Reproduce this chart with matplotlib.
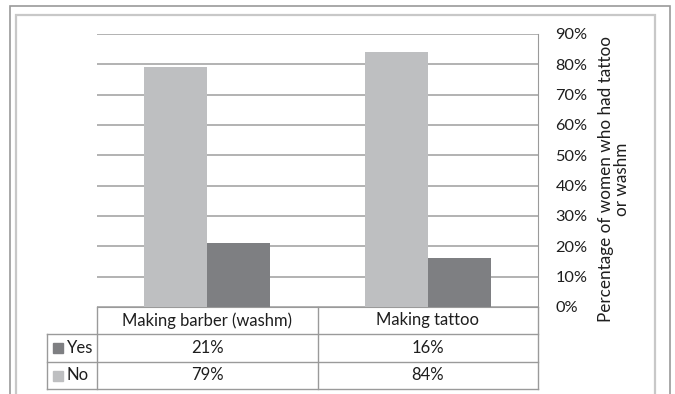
import matplotlib
matplotlib.use("Agg")
import matplotlib.pyplot as plt
from matplotlib.patches import Rectangle
from matplotlib.lines import Line2D
import numpy as np

categories = ["Making barber (washm)", "Making tattoo"]
series_names = ["Yes", "No"]
yes_values = [21, 16]
no_values = [79, 84]
yticks = [0, 10, 20, 30, 40, 50, 60, 70, 80, 90]
ylabel = "Percentage of women who had tattoo\nor washm"

C_NO = "#BEBFC1"
C_YES = "#7E7F82"
C_GRID = "#A6A6A6"
C_LINE = "#9A9A9A"
C_TEXT = "#1E1E1E"

plt.rcParams['font.family'] = ['Lato', 'DejaVu Sans']
W, H = 675, 394
fig = plt.figure(figsize=(W / 100, H / 100), dpi=100)

def fx(px):
    return px / W

def fy(py):
    return 1 - py / H

# outer borders
fig.patches.append(Rectangle((fx(10), fy(420)), fx(670) - fx(10), fy(6) - fy(420),
                             transform=fig.transFigure, fill=False, ec="#9A9A9A", lw=1.2))
fig.patches.append(Rectangle((fx(16), fy(420)), fx(655) - fx(16), fy(15) - fy(420),
                             transform=fig.transFigure, fill=False, ec="#C8C8C8", lw=1.6))

x0, x1 = 97, 538
y0, y1 = 307, 34
ax = fig.add_axes([fx(x0), fy(y0), fx(x1) - fx(x0), fy(y1) - fy(y0)])
ax.set_xlim(0, 2)
ax.set_ylim(0, 90)
x = np.arange(len(categories)) + 0.5
bw = 0.285
ax.bar(x - bw / 2, no_values, bw, color=C_NO, zorder=3)
ax.bar(x + bw / 2, yes_values, bw, color=C_YES, zorder=3)
ax.set_yticks(yticks)
ax.set_yticklabels([f"{v}%" for v in yticks])
ax.yaxis.tick_right()
ax.tick_params(axis='y', length=0, pad=12.5, labelsize=11.8, colors=C_TEXT)
ax.set_xticks([])
for s in ["top", "left"]:
    ax.spines[s].set_visible(False)
ax.spines["right"].set_color(C_LINE)
ax.spines["bottom"].set_color(C_LINE)
ax.grid(axis='y', color=C_GRID, lw=1.2, zorder=0)
ax.set_axisbelow(True)

fig.text(fx(614), fy(179), ylabel, rotation=90, ha="center", va="center",
         fontsize=12.3, color=C_TEXT, linespacing=1.0, multialignment="center")

# data table
def hline(px0, px1, py):
    fig.add_artist(Line2D([fx(px0), fx(px1)], [fy(py), fy(py)], transform=fig.transFigure,
                          color=C_LINE, lw=1.0))
def vline(px, py0, py1):
    fig.add_artist(Line2D([fx(px), fx(px)], [fy(py0), fy(py1)], transform=fig.transFigure,
                          color=C_LINE, lw=1.0))

tl = 47
r_head, r_yes, r_no, r_bot = 307, 334, 362, 389
col_edges = [x0, (x0 + x1) / 2, x1]
hline(tl, x1, r_yes)
hline(tl, x1, r_no)
hline(tl, x1, r_bot)
vline(tl, r_yes, r_bot)
for cx in col_edges:
    vline(cx, r_head, r_bot)

fs = 12
cy_head = (r_head + r_yes) / 2
cy_yes = (r_yes + r_no) / 2
cy_no = (r_no + r_bot) / 2
for i, cat in enumerate(categories):
    cx = (col_edges[i] + col_edges[i + 1]) / 2
    fig.text(fx(cx), fy(cy_head), cat, ha="center", va="center", fontsize=fs, color=C_TEXT)
    fig.text(fx(cx), fy(cy_yes), f"{yes_values[i]}%", ha="center", va="center", fontsize=fs, color=C_TEXT)
    fig.text(fx(cx), fy(cy_no), f"{no_values[i]}%", ha="center", va="center", fontsize=fs, color=C_TEXT)

for name, color, ry in [(series_names[0], C_YES, cy_yes), (series_names[1], C_NO, cy_no)]:
    fig.patches.append(Rectangle((fx(53), fy(ry + 5)), fx(10), fy(0) - fy(10),
                                 transform=fig.transFigure, color=color))
    fig.text(fx(67), fy(ry), name, ha="left", va="center", fontsize=fs, color=C_TEXT)

fig.savefig("out.png", dpi=100)
